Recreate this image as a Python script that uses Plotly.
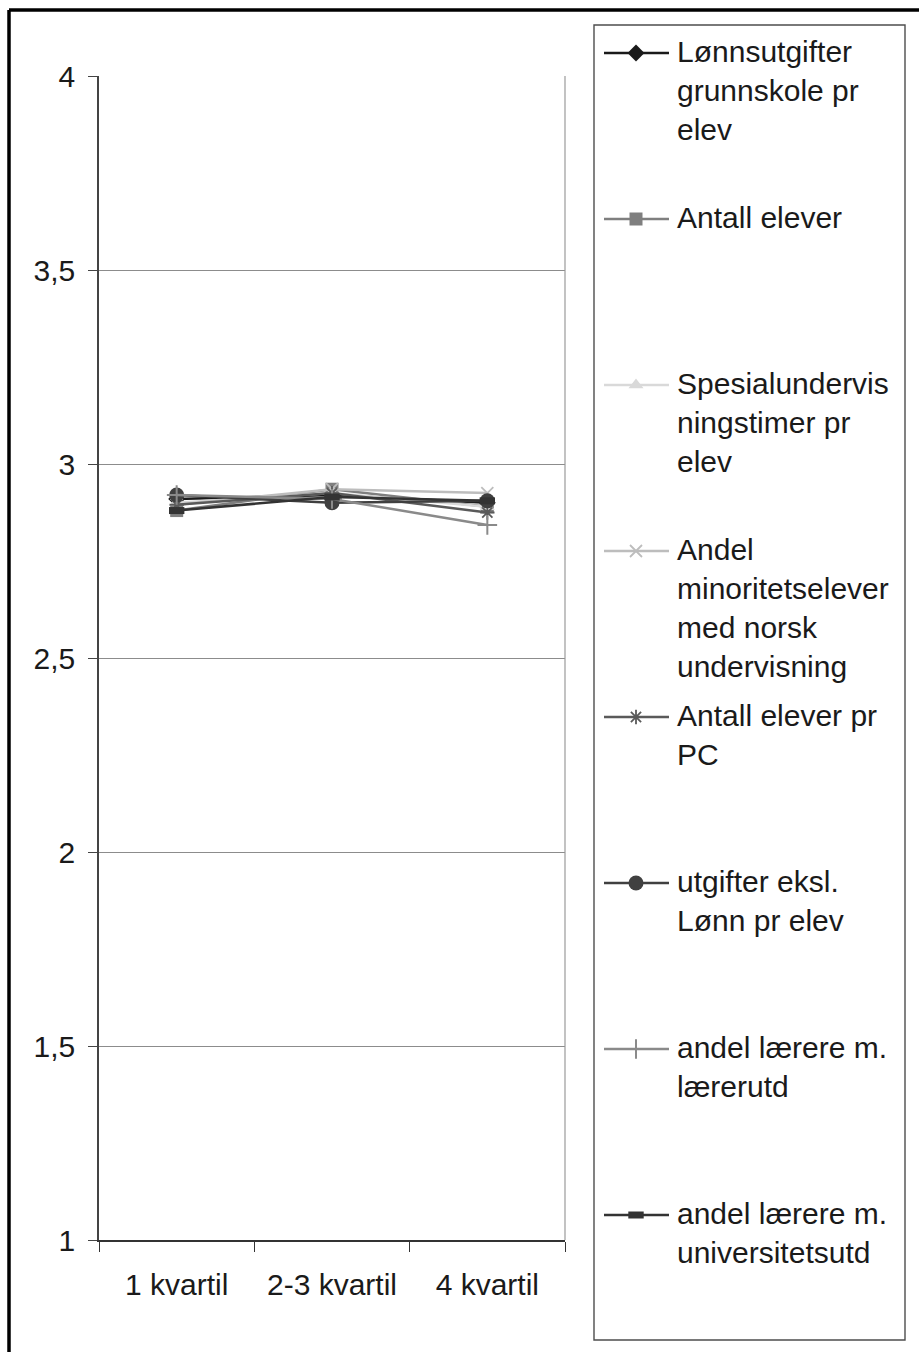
import plotly.graph_objects as go

# ---------------- data ----------------
categories = ["1 kvartil", "2-3 kvartil", "4 kvartil"]

lonnsutgifter = [2.910, 2.920, 2.900]
antall_elever = [2.880, 2.935, 2.890]
spesialundervisning = [2.900, 2.925, 2.890]
andel_minoritet = [2.895, 2.935, 2.925]
elever_pr_pc = [2.895, 2.925, 2.875]
utgifter_ekskl = [2.920, 2.900, 2.905]
laerere_laererutd = [2.920, 2.910, 2.843]
laerere_univ = [2.880, 2.915, 2.905]

series_names = [
    "Lønnsutgifter grunnskole pr elev",
    "Antall elever",
    "Spesialundervisningstimer pr elev",
    "Andel minoritetselever med norsk undervisning",
    "Antall elever pr PC",
    "utgifter eksl. Lønn pr elev",
    "andel lærere m. lærerutd",
    "andel lærere m. universitetsutd",
]
legend_labels = [
    "Lønnsutgifter<br>grunnskole pr<br>elev",
    "Antall elever",
    "Spesialundervis<br>ningstimer pr<br>elev",
    "Andel<br>minoritetselever<br>med norsk<br>undervisning",
    "Antall elever pr<br>PC",
    "utgifter eksl.<br>Lønn pr elev",
    "andel lærere m.<br>lærerutd",
    "andel lærere m.<br>universitetsutd",
]
y_tickvals = [1, 1.5, 2, 2.5, 3, 3.5, 4]
y_ticktext = ["1", "1,5", "2", "2,5", "3", "3,5", "4"]

series_values = [lonnsutgifter, antall_elever, spesialundervisning, andel_minoritet,
                 elever_pr_pc, utgifter_ekskl, laerere_laererutd, laerere_univ]

# ---------------- styles ----------------
line_colors = ["#1a1a1a", "#7f7f7f", "#d9d9d9", "#bdbdbd", "#5a5a5a", "#404040", "#8a8a8a", "#333333"]
marker_styles = [
    dict(symbol="diamond", size=13, color="#1a1a1a"),
    dict(symbol="square", size=13, color="#7f7f7f"),
    dict(symbol="triangle-up", size=13, color="#d9d9d9"),
    dict(symbol="x-thin", size=12, color="#bdbdbd", line=dict(width=1.8, color="#bdbdbd")),
    dict(symbol="asterisk", size=12, color="#5a5a5a", line=dict(width=1.8, color="#5a5a5a")),
    dict(symbol="circle", size=15, color="#404040"),
    dict(symbol="cross-thin", size=14, color="#8a8a8a", line=dict(width=2, color="#8a8a8a")),
    dict(symbol="line-ew", size=11, color="#333333", line=dict(width=7, color="#333333")),
]

W, H = 919, 1352
FONT = "Liberation Sans, Arial, sans-serif"
LEG_X0 = 590  # left edge (px) of the legend axis region

fig = go.Figure()

for name, vals, lc, ms in zip(series_names, series_values, line_colors, marker_styles):
    fig.add_trace(go.Scatter(
        x=categories, y=vals, name=name, mode="lines+markers",
        line=dict(color=lc, width=2.5), marker=ms,
        xaxis="x", yaxis="y", showlegend=False, cliponaxis=False,
    ))

# ---------------- custom legend (Excel style: key aligned with first line) ----------------
leg_top = 53
leg_step = 166
key_x0, key_xm, key_x1 = 604, 636, 669
text_x = 675
for i, (lab, lc, ms) in enumerate(zip(legend_labels, line_colors, marker_styles)):
    yc = leg_top + i * leg_step
    fig.add_trace(go.Scatter(
        x=[key_x0, key_x1], y=[yc, yc], mode="lines",
        line=dict(color=lc, width=2.5), xaxis="x2", yaxis="y2",
        showlegend=False, hoverinfo="skip",
    ))
    fig.add_trace(go.Scatter(
        x=[key_xm], y=[yc], mode="markers", marker=ms,
        xaxis="x2", yaxis="y2", showlegend=False, hoverinfo="skip",
    ))
    fig.add_annotation(
        x=text_x / W, y=1 - (yc - 20) / H, xref="paper", yref="paper",
        xanchor="left", yanchor="top", align="left", showarrow=False,
        text=lab, font=dict(family=FONT, size=30, color="#1a1a1a"),
    )

shapes = [
    # outer frame (left and top edges visible)
    dict(type="line", xref="paper", yref="paper", x0=9 / W, x1=1.01, y0=1 - 10 / H, y1=1 - 10 / H,
         line=dict(color="#000000", width=3.5)),
    dict(type="line", xref="paper", yref="paper", x0=9 / W, x1=9 / W, y0=1 - 10 / H, y1=-0.01,
         line=dict(color="#000000", width=3.5)),
    # legend box
    dict(type="rect", xref="paper", yref="paper", x0=594 / W, x1=905 / W, y0=1 - 1340 / H, y1=1 - 25 / H,
         line=dict(color="#4d4d4d", width=1.4)),
    # right border of plot area
    dict(type="line", xref="x domain", yref="y domain", x0=1, x1=1, y0=0, y1=1,
         line=dict(color="#9a9a9a", width=1.2)),
]

fig.update_layout(
    template="none",
    width=W, height=H,
    margin=dict(l=0, r=0, t=0, b=0, pad=0, autoexpand=False),
    paper_bgcolor="white", plot_bgcolor="white",
    font=dict(family=FONT, size=30, color="#1a1a1a"),
    showlegend=False,
    shapes=shapes,
    xaxis=dict(
        domain=[99 / W, 565 / W], type="category", range=[-0.5, 2.5],
        showgrid=False, zeroline=False, showline=True, linecolor="#333333", linewidth=1.6,
        ticks="outside", ticklen=10, tickwidth=1.2, tickcolor="#333333",
        tickson="boundaries", ticklabelstandoff=17, automargin=False,
        tickfont=dict(family=FONT, size=30, color="#1a1a1a"),
    ),
    yaxis=dict(
        domain=[1 - 1240 / H, 1 - 76 / H], range=[1, 4],
        tickvals=y_tickvals, ticktext=y_ticktext,
        showgrid=True, gridcolor="#8c8c8c", gridwidth=1.2, zeroline=False,
        showline=True, linecolor="#444444", linewidth=1.6,
        ticks="outside", ticklen=9, tickwidth=1.2, tickcolor="#444444",
        ticklabelstandoff=7, automargin=False,
        tickfont=dict(family=FONT, size=30, color="#1a1a1a"),
    ),
    xaxis2=dict(domain=[LEG_X0 / W, 1], range=[LEG_X0, W], visible=False, anchor="y2", automargin=False),
    yaxis2=dict(domain=[0, 1], range=[H, 0], visible=False, anchor="x2", automargin=False),
)

fig.write_html(
    "out.html",
    config={"displayModeBar": False},
    post_script="document.body.style.margin='0';document.body.style.overflow='hidden';",
)
